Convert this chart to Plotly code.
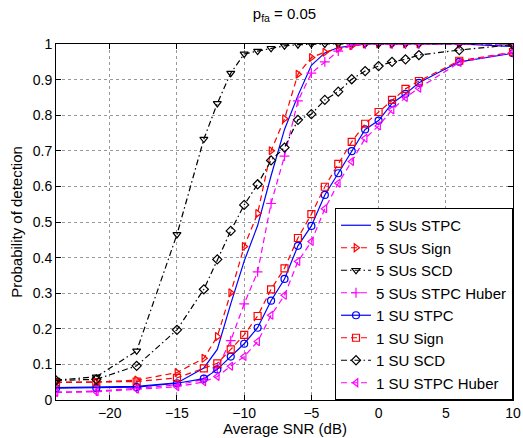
# detection probability vs average SNR, p_fa = 0.05
import plotly.graph_objects as go

snr_db = [-24, -21, -18, -15, -13, -12, -11, -10, -9, -8, -7, -6, -5, -4, -3, -2, -1, 0, 1, 2, 3, 6, 10]

# 5 SUs
pd_5_stpc = [0.035, 0.036, 0.038, 0.048, 0.09, 0.142, 0.27, 0.39, 0.49, 0.63, 0.76, 0.855, 0.94, 0.975, 0.99, 0.995, 1.0, 1.0, 1.0, 1.0, 1.0, 1.0, 0.993]
pd_5_sign = [0.05, 0.05, 0.056, 0.077, 0.117, 0.178, 0.301, 0.431, 0.524, 0.70, 0.79, 0.915, 0.962, 0.977, 0.988, 0.995, 1.0, 1.0, 1.0, 1.0, 1.0, 1.0, 1.0]
pd_5_scd = [0.056, 0.065, 0.138, 0.465, 0.733, 0.833, 0.918, 0.972, 0.98, 0.988, 0.995, 0.998, 1.0, 1.0, 1.0, 1.0, 1.0, 1.0, 1.0, 1.0, 1.0, 1.0, 1.0]
pd_5_huber = [0.022, 0.025, 0.033, 0.042, 0.058, 0.09, 0.167, 0.27, 0.36, 0.552, 0.685, 0.84, 0.918, 0.95, 0.98, 0.997, 1.0, 1.0, 1.0, 1.0, 1.0, 1.0, 1.0]

# 1 SU
pd_1_stpc = [0.033, 0.034, 0.036, 0.047, 0.06, 0.086, 0.122, 0.158, 0.203, 0.279, 0.34, 0.433, 0.489, 0.576, 0.637, 0.699, 0.76, 0.785, 0.833, 0.86, 0.891, 0.95, 0.974]
pd_1_sign = [0.049, 0.05, 0.052, 0.062, 0.089, 0.103, 0.142, 0.183, 0.236, 0.311, 0.37, 0.455, 0.522, 0.599, 0.663, 0.725, 0.776, 0.809, 0.843, 0.874, 0.896, 0.953, 0.977]
pd_1_scd = [0.055, 0.058, 0.096, 0.197, 0.311, 0.395, 0.475, 0.548, 0.606, 0.673, 0.709, 0.787, 0.803, 0.843, 0.866, 0.901, 0.924, 0.938, 0.95, 0.957, 0.969, 0.983, 0.998]
pd_1_huber = [0.021, 0.023, 0.030, 0.037, 0.051, 0.066, 0.095, 0.122, 0.164, 0.238, 0.294, 0.389, 0.445, 0.537, 0.609, 0.670, 0.735, 0.770, 0.815, 0.850, 0.876, 0.948, 0.977]

x_ticks = [-20, -15, -10, -5, 0, 5, 10]
y_ticks = [0, 0.1, 0.2, 0.3, 0.4, 0.5, 0.6, 0.7, 0.8, 0.9, 1]

DASH = "6px,4px"
DASHDOT = "6px,3px,1.5px,3px"

series = [
    ("5 SUs STPC", pd_5_stpc, "blue", "solid", None),
    ("5 SUs Sign", pd_5_sign, "red", DASH, "triangle-right-open"),
    ("5 SUs SCD", pd_5_scd, "black", DASHDOT, "triangle-down-open"),
    ("5 SUs STPC Huber", pd_5_huber, "magenta", DASH, "cross-thin-open"),
    ("1 SU STPC", pd_1_stpc, "blue", "solid", "circle-open"),
    ("1 SU Sign", pd_1_sign, "red", DASH, "square-open"),
    ("1 SU SCD", pd_1_scd, "black", DASHDOT, "diamond-open"),
    ("1 SU STPC Huber", pd_1_huber, "magenta", DASH, "triangle-left-open"),
]

fig = go.Figure()
for name, y, col, dash, sym in series:
    fig.add_trace(go.Scatter(
        x=snr_db, y=y, name=name,
        mode="lines" if sym is None else "lines+markers",
        line=dict(color=col, width=1.2, dash=dash),
        marker=dict(symbol=sym or "circle", size=7, color=col,
                    line=dict(color=col, width=1.2)),
    ))

axis_font = dict(family="Liberation Sans, Arial, sans-serif", size=14, color="black")

fig.update_layout(
    width=523, height=438,
    margin=dict(l=56, r=10, t=44, b=38),
    paper_bgcolor="white", plot_bgcolor="white",
    font=axis_font,
    title=dict(text="p<sub>fa</sub> = 0.05", x=(56 + 513) / 2 / 523, xanchor="center",
               y=1 - 14 / 438, yanchor="middle", font=dict(size=15)),
    legend=dict(x=1, xanchor="right", y=0, yanchor="bottom",
                bgcolor="white", bordercolor="black", borderwidth=1,
                font=dict(size=15), tracegroupgap=0, itemwidth=30),
    showlegend=True,
    annotations=[dict(text="Average SNR (dB)", xref="paper", yref="paper",
                      x=0.5, y=-28 / 356, xanchor="center", yanchor="middle",
                      showarrow=False, font=dict(size=15))],
)
fig.update_xaxes(
    range=[-24, 10], tickvals=x_ticks, automargin=False,
    showline=True, linecolor="black", linewidth=1, mirror="allticks",
    ticks="inside", ticklen=5, tickcolor="black",
    showgrid=True, gridcolor="rgba(0,0,0,0.4)", griddash="dot", gridwidth=1,
    zeroline=False,
)
fig.update_yaxes(
    range=[0, 1], tickvals=y_ticks, ticktext=[f"{v:g}" for v in y_ticks], automargin=False,
    showline=True, linecolor="black", linewidth=1, mirror="allticks",
    ticks="inside", ticklen=5, tickcolor="black",
    showgrid=True, gridcolor="rgba(0,0,0,0.4)", griddash="dot", gridwidth=1,
    zeroline=False,
    title=dict(text="Probability of detection", standoff=6, font=dict(size=15)),
)

fig.write_html("out.html", config={"displayModeBar": False},
               post_script="document.body.style.margin='0';document.body.style.overflow='hidden';")
